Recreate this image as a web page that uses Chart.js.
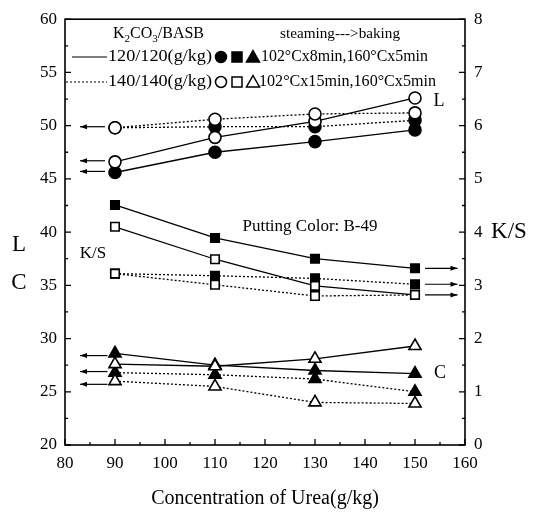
<!DOCTYPE html>
<html>
<head>
<meta charset="utf-8">
<script src="https://cdn.jsdelivr.net/npm/chart.js@4/dist/chart.umd.min.js"></script>
<style>
html, body { margin: 0; padding: 0; background: #fff; }
</style>
</head>
<body>
<canvas id="chart" width="535" height="513"></canvas>
<script>
// urea concentration (g/kg)
var urea = [90, 110, 130, 150];

// L values (left axis)
var lSolidFilled = [45.6, 47.5, 48.5, 49.6];
var lSolidHollow = [46.6, 48.9, 50.4, 52.6];
var lDotFilled = [49.8, 49.9, 49.9, 50.5];
var lDotHollow = [49.8, 50.6, 51.1, 51.2];

// K/S values (right axis)
var ksSolidFilled = [4.51, 3.89, 3.50, 3.32];
var ksSolidHollow = [4.10, 3.49, 2.99, 2.82];
var ksDotFilled = [3.22, 3.18, 3.13, 3.02];
var ksDotHollow = [3.22, 3.01, 2.80, 2.82];

// C values (left axis)
var cSolidFilled = [28.6, 27.5, 27.0, 26.7];
var cSolidHollow = [27.6, 27.4, 28.1, 29.3];
var cDotFilled = [26.8, 26.6, 26.2, 25.0];
var cDotHollow = [26.0, 25.5, 24.0, 23.9];

// arrows showing which axis a group belongs to
var arrowsL = [49.9, 46.7, 45.7];
var arrowsC = [28.4, 26.9, 25.7];
var arrowsKS = [3.32, 3.02, 2.82];

var xTicks = [80, 90, 100, 110, 120, 130, 140, 150, 160];
var leftTicks = [20, 25, 30, 35, 40, 45, 50, 55, 60];
var rightTicks = [0, 1, 2, 3, 4, 5, 6, 7, 8];

var serif = "'Liberation Serif', 'DejaVu Serif', serif";

function pts(ys) {
	var out = [];
	for (var i = 0; i < urea.length; i++) out.push({x: urea[i], y: ys[i]});
	return out;
}

function series(ys, axis, shape, filled, dotted) {
	return {
		data: pts(ys),
		yAxisID: axis,
		borderColor: '#000',
		borderWidth: 1.3,
		borderDash: dotted ? [2, 2] : [],
		pointStyle: shape,
		pointRadius: shape == 'triangle' ? 7 : 6,
		pointBackgroundColor: filled ? '#000' : '#fff',
		pointBorderColor: '#000',
		pointBorderWidth: 1.6,
		fill: false,
		tension: 0
	};
}

function arrow(ctx, x1, y, x2) {
	var dir = x2 > x1 ? 1 : -1;
	ctx.beginPath();
	ctx.moveTo(x1, y);
	ctx.lineTo(x2, y);
	ctx.stroke();
	ctx.beginPath();
	ctx.moveTo(x2, y);
	ctx.lineTo(x2 - dir * 7, y - 2.5);
	ctx.lineTo(x2 - dir * 7, y + 2.5);
	ctx.closePath();
	ctx.fill();
}

function marker(ctx, shape, x, y, filled) {
	ctx.beginPath();
	if (shape == 'circle') ctx.arc(x, y, 5.5, 0, Math.PI * 2);
	if (shape == 'rect') ctx.rect(x - 5, y - 5, 10, 10);
	if (shape == 'triangle') { ctx.moveTo(x, y - 6.5); ctx.lineTo(x + 6.5, y + 5); ctx.lineTo(x - 6.5, y + 5); ctx.closePath(); }
	ctx.fillStyle = filled ? '#000' : '#fff';
	ctx.fill();
	ctx.lineWidth = 1.5;
	ctx.stroke();
	ctx.fillStyle = '#000';
}

// draw text squeezed/stretched to run from x1 to x2
function fitText(ctx, txt, x1, x2, y, size) {
	ctx.font = size + 'px ' + serif;
	var w = ctx.measureText(txt).width;
	ctx.save();
	ctx.translate(x1, y);
	ctx.scale((x2 - x1) / w, 1);
	ctx.fillText(txt, 0, 0);
	ctx.restore();
}

var extras = {
	id: 'extras',
	afterDraw: function (chart) {
		var ctx = chart.ctx;
		var a = chart.chartArea;
		var sx = chart.scales.x, sl = chart.scales.yL, sk = chart.scales.yK;
		ctx.save();
		ctx.strokeStyle = '#000';
		ctx.fillStyle = '#000';

		// frame
		ctx.lineWidth = 1.6;
		ctx.strokeRect(a.left, a.top, a.right - a.left, a.bottom - a.top);

		// inward ticks
		ctx.lineWidth = 1.3;
		ctx.beginPath();
		for (var v = 80; v <= 160; v += 5) {
			var px = sx.getPixelForValue(v);
			ctx.moveTo(px, a.bottom);
			ctx.lineTo(px, a.bottom - (v % 10 == 0 ? 6 : 3));
		}
		for (var v = 20; v <= 60; v += 2.5) {
			var py = sl.getPixelForValue(v);
			ctx.moveTo(a.left, py);
			ctx.lineTo(a.left + (v % 5 == 0 ? 6 : 3), py);
		}
		for (var v = 0; v <= 8; v += 0.5) {
			var py = sk.getPixelForValue(v);
			ctx.moveTo(a.right, py);
			ctx.lineTo(a.right - (v % 1 == 0 ? 6 : 3), py);
		}
		ctx.stroke();

		// arrows
		ctx.lineWidth = 1.2;
		arrowsL.forEach(function (v) {
			arrow(ctx, sx.getPixelForValue(88), sl.getPixelForValue(v), sx.getPixelForValue(83));
		});
		arrowsC.forEach(function (v) {
			arrow(ctx, sx.getPixelForValue(88.5), sl.getPixelForValue(v), sx.getPixelForValue(83));
		});
		arrowsKS.forEach(function (v) {
			arrow(ctx, sx.getPixelForValue(152), sk.getPixelForValue(v), sx.getPixelForValue(158.5));
		});

		// labels in plot
		ctx.textBaseline = 'middle';
		ctx.textAlign = 'center';
		ctx.font = '18px ' + serif;
		ctx.fillText('L', sx.getPixelForValue(154.8), sl.getPixelForValue(52.3));
		ctx.fillText('C', sx.getPixelForValue(155), sl.getPixelForValue(26.7));
		ctx.font = '17px ' + serif;
		ctx.fillText('K/S', sx.getPixelForValue(85.6), sl.getPixelForValue(38.0));
		ctx.fillText('Putting Color: B-49', sx.getPixelForValue(129), sl.getPixelForValue(40.5));

		// axis side titles
		ctx.font = '23px ' + serif;
		ctx.fillText('L', 19, 245);
		ctx.fillText('C', 19, 283);
		ctx.fillText('K/S', 509, 232);

		// legend
		ctx.textAlign = 'left';
		ctx.font = '16px ' + serif;
		var x0 = 113, y0 = 34;
		ctx.fillText('K', x0, y0);
		x0 += ctx.measureText('K').width;
		ctx.font = '11px ' + serif;
		ctx.fillText('2', x0, y0 + 5);
		x0 += ctx.measureText('2').width;
		ctx.font = '16px ' + serif;
		ctx.fillText('CO', x0, y0);
		x0 += ctx.measureText('CO').width;
		ctx.font = '11px ' + serif;
		ctx.fillText('3', x0, y0 + 5);
		x0 += ctx.measureText('3').width;
		ctx.font = '16px ' + serif;
		ctx.fillText('/BASB', x0, y0);
		fitText(ctx, 'steaming--->baking', 280, 400, 34, 14);

		ctx.lineWidth = 1.2;
		ctx.beginPath();
		ctx.moveTo(72, 57); ctx.lineTo(107, 57);
		ctx.stroke();
		fitText(ctx, '120/120(g/kg)', 108, 212, 57, 17);
		marker(ctx, 'circle', 221, 57, true);
		marker(ctx, 'rect', 237, 57, true);
		marker(ctx, 'triangle', 253, 57, true);
		fitText(ctx, '102\u00b0Cx8min,160\u00b0Cx5min', 261, 428, 57, 17);

		ctx.setLineDash([2, 2]);
		ctx.lineWidth = 1.2;
		ctx.beginPath();
		ctx.moveTo(66, 82); ctx.lineTo(107, 82);
		ctx.stroke();
		ctx.setLineDash([]);
		fitText(ctx, '140/140(g/kg)', 108, 212, 82, 17);
		marker(ctx, 'circle', 221, 82, false);
		marker(ctx, 'rect', 237, 82, false);
		marker(ctx, 'triangle', 253, 82, false);
		fitText(ctx, '102\u00b0Cx15min,160\u00b0Cx5min', 259, 436, 82, 17);

		ctx.restore();
	}
};

// hollow markers listed first so they sit on top where points coincide
new Chart(document.getElementById('chart'), {
	type: 'line',
	data: {
		datasets: [
			series(lDotHollow, 'yL', 'circle', false, true),
			series(lSolidHollow, 'yL', 'circle', false, false),
			series(lDotFilled, 'yL', 'circle', true, true),
			series(lSolidFilled, 'yL', 'circle', true, false),
			series(ksDotHollow, 'yK', 'rect', false, true),
			series(ksSolidHollow, 'yK', 'rect', false, false),
			series(ksDotFilled, 'yK', 'rect', true, true),
			series(ksSolidFilled, 'yK', 'rect', true, false),
			series(cSolidHollow, 'yL', 'triangle', false, false),
			series(cDotHollow, 'yL', 'triangle', false, true),
			series(cSolidFilled, 'yL', 'triangle', true, false),
			series(cDotFilled, 'yL', 'triangle', true, true)
		]
	},
	options: {
		responsive: false,
		animation: false,
		layout: { padding: { top: 18, left: 0, right: 0, bottom: 0 } },
		plugins: { legend: { display: false }, tooltip: { enabled: false } },
		scales: {
			x: {
				type: 'linear',
				min: 80, max: 160,
				afterBuildTicks: function (s) { s.ticks = xTicks.map(function (v) { return {value: v}; }); },
				afterFit: function (s) { s.height = 68; },
				grid: { display: false, drawTicks: false },
				border: { display: false },
				ticks: { color: '#000', font: { family: serif, size: 17 }, padding: 8, maxRotation: 0 },
				title: { display: true, text: 'Concentration of Urea(g/kg)', color: '#000', font: { family: serif, size: 20 }, padding: { top: 4, bottom: 2 } }
			},
			yL: {
				position: 'left',
				min: 20, max: 60,
				afterBuildTicks: function (s) { s.ticks = leftTicks.map(function (v) { return {value: v}; }); },
				afterFit: function (s) { s.width = 65; },
				grid: { display: false, drawTicks: false },
				border: { display: false },
				ticks: { color: '#000', font: { family: serif, size: 17 }, padding: 8 }
			},
			yK: {
				position: 'right',
				min: 0, max: 8,
				afterBuildTicks: function (s) { s.ticks = rightTicks.map(function (v) { return {value: v}; }); },
				afterFit: function (s) { s.width = 70; },
				grid: { display: false, drawTicks: false },
				border: { display: false },
				ticks: { color: '#000', font: { family: serif, size: 17 }, padding: 9 }
			}
		}
	},
	plugins: [extras]
});
</script>
</body>
</html>
